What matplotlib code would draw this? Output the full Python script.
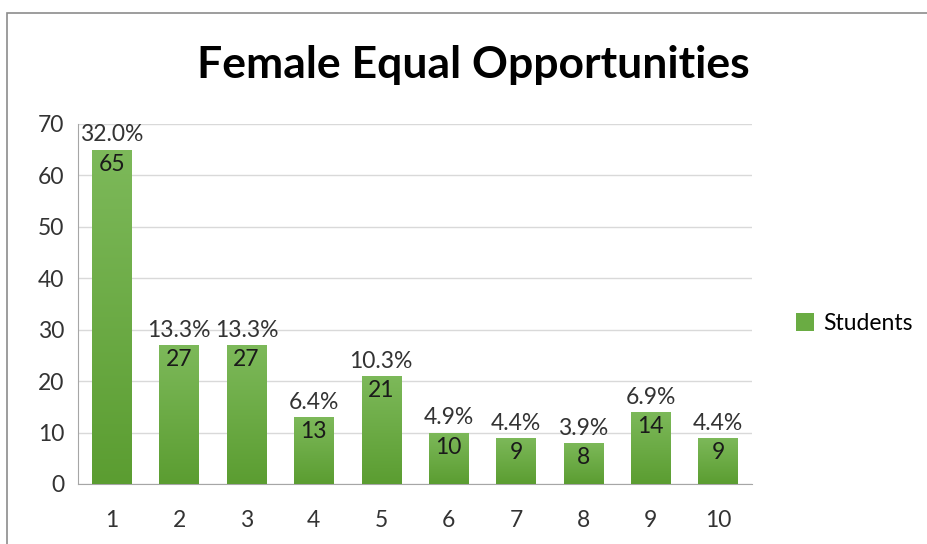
import matplotlib.pyplot as plt
import numpy as np
from matplotlib.patches import Rectangle

# --- données ---
categories = ['1', '2', '3', '4', '5', '6', '7', '8', '9', '10']
students = [65, 27, 27, 13, 21, 10, 9, 8, 14, 9]
pourcentages = ['32.0%', '13.3%', '13.3%', '6.4%', '10.3%', '4.9%', '4.4%', '3.9%', '6.9%', '4.4%']

plt.rcParams['font.family'] = ['Lato', 'DejaVu Sans']

fig = plt.figure(figsize=(9.28, 5.44), dpi=100)
ax = fig.add_axes([0.084, 0.1103, 0.726, 0.662])

x = np.arange(len(categories))
bars = ax.bar(x, students, width=0.58, color='#6aac43', label='Students', zorder=3)

# dégradé vertical dans chaque barre
grad = np.linspace(0, 1, 256).reshape(-1, 1)
cmap = plt.matplotlib.colors.LinearSegmentedColormap.from_list('vert', ['#5b9d31', '#7db95a'])
for b in bars:
    x0, y0 = b.get_x(), b.get_y()
    w, h = b.get_width(), b.get_height()
    im = ax.imshow(grad, extent=(x0, x0 + w, y0, y0 + h), origin='lower', aspect='auto',
                   cmap=cmap, zorder=3.5)
    im.set_clip_path(b)

# étiquettes
for i, (v, p) in enumerate(zip(students, pourcentages)):
    ax.annotate(str(v), (i, v), xytext=(0, -3), textcoords='offset points',
                ha='center', va='top', fontsize=16.5, color='#1a1a1a', zorder=5)
    ax.annotate(p, (i, v), xytext=(0, 3), textcoords='offset points',
                ha='center', va='bottom', fontsize=16.5, color='#333333', zorder=5)

ax.set_xlim(-0.5, len(categories) - 0.5)
ax.set_ylim(0, 70)
ax.set_yticks(range(0, 71, 10))
ax.set_xticks(x)
ax.set_xticklabels(categories)
ax.tick_params(axis='both', length=0, labelsize=16.5, colors='#333333')
ax.tick_params(axis='x', pad=19)
ax.tick_params(axis='y', pad=10)
ax.grid(axis='y', color='#d9d9d9', linewidth=1, zorder=0)
for s in ['top', 'right']:
    ax.spines[s].set_visible(False)
ax.spines['left'].set_color('#a6a6a6')
ax.spines['bottom'].set_color('#a6a6a6')

fig.text(0.51, 0.88, 'Female Equal Opportunities', ha='center', va='center',
         fontsize=32, fontweight='bold', color='black')

leg = fig.legend(handles=[bars], labels=['Students'], loc='center left',
                 bbox_to_anchor=(0.835, 0.405), frameon=False, fontsize=16.5,
                 handlelength=0.8, handleheight=0.8, handletextpad=0.4)

# cadre du graphique (coupé à droite et en bas)
fig.patches.append(Rectangle((7 / 928, -0.1), 1.2, 1.1 - 13 / 544, transform=fig.transFigure,
                             fill=False, edgecolor='#8c8c8c', linewidth=1.2))

fig.savefig('out.png', dpi=100)
